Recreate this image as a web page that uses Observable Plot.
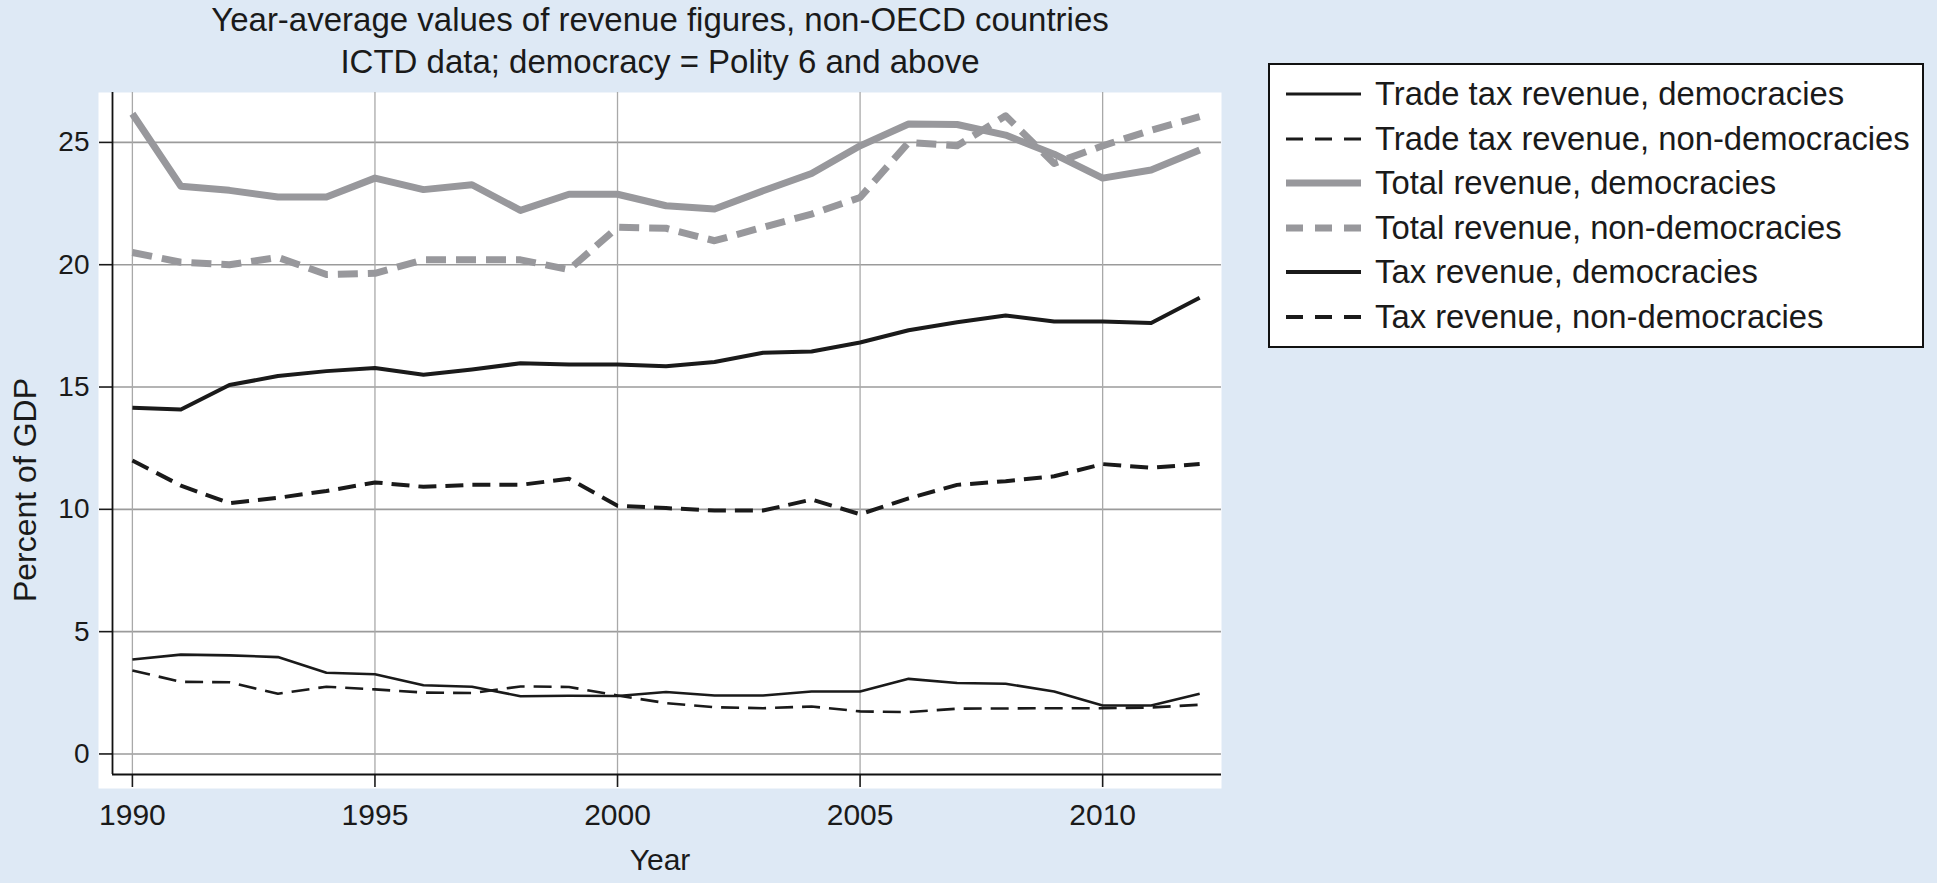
<!DOCTYPE html>
<html>
<head>
<meta charset="utf-8">
<script src="https://cdn.jsdelivr.net/npm/d3@7"></script>
<script src="https://cdn.jsdelivr.net/npm/@observablehq/plot@0.6"></script>
<style>
  html, body { margin: 0; padding: 0; background: #dee9f5; }
  #page { position: relative; width: 1937px; height: 883px; overflow: hidden; background: #dee9f5;
          font-family: "Liberation Sans", Arial, Helvetica, sans-serif; color: #1a1a1a; }
  #chart { position: absolute; left: 0; top: 0; }
  #title { position: absolute; left: 0; top: -1px; width: 1320px; text-align: center;
           font-size: 33px; line-height: 42px; }
  #ylabel { position: absolute; left: 25px; top: 490px; font-size: 32px; white-space: nowrap;
            transform: translate(-50%, -50%) rotate(-90deg); }
  #xlabel { position: absolute; left: 660px; top: 860px; font-size: 30px; transform: translate(-50%, -50%); }
  #legend { position: absolute; left: 1268px; top: 63px; width: 656px; height: 285px; box-sizing: border-box;
            border: 2px solid #111; background: #fff; padding-top: 7px; padding-left: 16px; }
  .row { height: 44.5px; display: flex; align-items: center; font-size: 32.8px; white-space: nowrap; }
  .row svg { margin-right: 14px; flex: none; }
</style>
</head>
<body>
<div id="page">
  <div id="chart"></div>
  <div id="title">Year-average values of revenue figures, non-OECD countries<br>ICTD data; democracy = Polity 6 and above</div>
  <div id="ylabel">Percent of GDP</div>
  <div id="xlabel">Year</div>
  <div id="legend"></div>
</div>
<script>
// ---- data ----
const years = [1990, 1991, 1992, 1993, 1994, 1995, 1996, 1997, 1998, 1999, 2000, 2001,
               2002, 2003, 2004, 2005, 2006, 2007, 2008, 2009, 2010, 2011, 2012];

const seriesNames = [
  "Trade tax revenue, democracies",
  "Trade tax revenue, non-democracies",
  "Total revenue, democracies",
  "Total revenue, non-democracies",
  "Tax revenue, democracies",
  "Tax revenue, non-democracies"
];

const tradeTaxDem    = [3.86, 4.06, 4.03, 3.96, 3.32, 3.26, 2.81, 2.75, 2.36, 2.38, 2.37, 2.53,
                        2.39, 2.39, 2.55, 2.55, 3.07, 2.90, 2.87, 2.55, 1.98, 1.98, 2.46];
const tradeTaxNonDem = [3.41, 2.95, 2.93, 2.46, 2.75, 2.64, 2.51, 2.49, 2.76, 2.74, 2.39, 2.08,
                        1.91, 1.87, 1.94, 1.74, 1.71, 1.85, 1.86, 1.87, 1.87, 1.90, 2.01];
const totalDem       = [26.17, 23.21, 23.04, 22.77, 22.77, 23.54, 23.07, 23.27, 22.22, 22.88, 22.88, 22.41,
                        22.28, 23.02, 23.73, 24.86, 25.75, 25.73, 25.30, 24.52, 23.54, 23.87, 24.69];
const totalNonDem    = [20.50, 20.10, 20.00, 20.30, 19.60, 19.65, 20.20, 20.20, 20.20, 19.80, 21.53, 21.49,
                        20.98, 21.53, 22.07, 22.75, 25.00, 24.86, 26.09, 24.14, 24.86, 25.50, 26.05];
const taxDem         = [14.15, 14.08, 15.08, 15.45, 15.65, 15.78, 15.50, 15.72, 15.97, 15.92, 15.92, 15.85,
                        16.02, 16.40, 16.45, 16.82, 17.32, 17.65, 17.92, 17.68, 17.68, 17.62, 18.65];
const taxNonDem      = [12.00, 10.97, 10.25, 10.47, 10.75, 11.10, 10.92, 11.00, 11.00, 11.25, 10.15, 10.05,
                        9.95, 9.95, 10.40, 9.80, 10.45, 11.00, 11.15, 11.35, 11.85, 11.70, 11.85];

const seriesValues = [tradeTaxDem, tradeTaxNonDem, totalDem, totalNonDem, taxDem, taxNonDem];

const xTicks = [1990, 1995, 2000, 2005, 2010];
const yTicks = [0, 5, 10, 15, 20, 25];

// ---- styles (kept separate from data) ----
const BLACK = "#1a1a1a", GREY = "#98989c";
const styles = [
  {stroke: BLACK, width: 2.6, dash: null,    legendWidth: 3.2},
  {stroke: BLACK, width: 2.6, dash: "18,9",  legendWidth: 3.2},
  {stroke: GREY,  width: 7,   dash: null,    legendWidth: 7},
  {stroke: GREY,  width: 7,   dash: "20,10", legendWidth: 7},
  {stroke: BLACK, width: 4,   dash: null,    legendWidth: 4.2},
  {stroke: BLACK, width: 4,   dash: "18,9",  legendWidth: 4.2}
];

const table = seriesNames.flatMap((name, i) =>
  years.map((year, j) => ({series: name, year, value: seriesValues[i][j]})));

const xDomain = [1989.59, 2012.45];
const yDomain = [-0.84, 27.04];

const lineMarks = seriesNames.map((name, i) =>
  Plot.line(table.filter(d => d.series === name), {
    x: "year", y: "value",
    stroke: styles[i].stroke,
    strokeWidth: styles[i].width,
    strokeDasharray: styles[i].dash,
    strokeLinecap: "butt",
    strokeLinejoin: "round"
  }));

const chart = Plot.plot({
  width: 1937,
  height: 883,
  marginLeft: 112,
  marginRight: 716,
  marginTop: 92,
  marginBottom: 109,
  style: {background: "transparent", fontFamily: "'Liberation Sans', Arial, sans-serif", color: BLACK, overflow: "visible"},
  x: {domain: xDomain},
  y: {domain: yDomain},
  marks: [
    Plot.frame({fill: "white", stroke: "none", insetLeft: -14, insetBottom: -14}),
    Plot.gridY({ticks: yTicks, stroke: "#9b9b9b", strokeOpacity: 1, strokeWidth: 1.6}),
    Plot.gridX({ticks: xTicks, stroke: "#a9a9a9", strokeOpacity: 1, strokeWidth: 1.3}),
    Plot.axisY({ticks: yTicks, tickFormat: d => String(d), tickSize: 13, tickPadding: 10,
                fontSize: 28, label: null, strokeWidth: 1.6}),
    Plot.axisX({ticks: xTicks, tickFormat: d => String(d), tickSize: 13, tickPadding: 16,
                fontSize: 30, label: null, strokeWidth: 1.6}),
    Plot.ruleX([xDomain[0]], {stroke: "#111", strokeWidth: 1.8}),
    Plot.ruleY([yDomain[0]], {stroke: "#111", strokeWidth: 1.8}),
    ...lineMarks
  ]
});
document.getElementById("chart").appendChild(chart);

// ---- legend ----
const legend = d3.select("#legend");
seriesNames.forEach((name, i) => {
  const row = legend.append("div").attr("class", "row");
  const svg = row.append("svg").attr("width", 75).attr("height", 14);
  svg.append("line")
    .attr("x1", 0).attr("x2", 75).attr("y1", 7).attr("y2", 7)
    .attr("stroke", styles[i].stroke)
    .attr("stroke-width", styles[i].legendWidth)
    .attr("stroke-dasharray", styles[i].dash ? "17,12" : null);
  row.append("span").text(name);
});
</script>
</body>
</html>
